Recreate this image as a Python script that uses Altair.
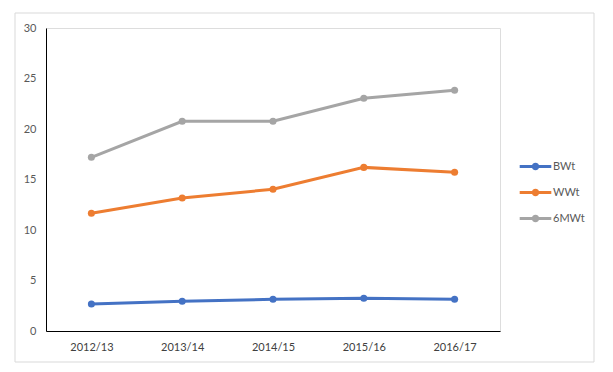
import altair as alt
import pandas as pd

years = ["2012/13", "2013/14", "2014/15", "2015/16", "2016/17"]
bwt = [2.67, 2.94, 3.14, 3.24, 3.14]
wwt = [11.65, 13.17, 14.03, 16.2, 15.71]
mwt6 = [17.2, 20.76, 20.76, 23.04, 23.83]
series_names = ["BWt", "WWt", "6MWt"]
series_colors = ["#4472C4", "#ED7D31", "#A5A5A5"]
y_ticks = [0, 5, 10, 15, 20, 25, 30]

rows = []
for name, vals in zip(series_names, [bwt, wwt, mwt6]):
    for yr, v in zip(years, vals):
        rows.append({"year": yr, "value": v, "series": name})
df = pd.DataFrame(rows)

FONT = "Lato"
W, H = 454, 303

border = alt.Chart(pd.DataFrame({"a": [0]})).mark_rect(
    fill="transparent", stroke="#d9d9d9", strokeWidth=1
).encode(
    x=alt.value(-31), x2=alt.value(548), y=alt.value(-15), y2=alt.value(334)
)

legend_symbol = "M-1,0L1,0M-0.14,0A0.14,0.14,0,1,1,0.14,0A0.14,0.14,0,1,1,-0.14,0"

lines = alt.Chart(df).mark_line(
    strokeWidth=3,
    point=alt.OverlayMarkDef(size=50, filled=True, opacity=1),
).encode(
    x=alt.X("year:N", sort=years, scale=alt.Scale(padding=0.5),
            axis=alt.Axis(title=None, labelAngle=0, ticks=False, grid=False,
                          domainColor="#000000", domainWidth=1,
                          labelColor="#404040", labelFont=FONT, labelFontSize=11,
                          labelPadding=10, zindex=1)),
    y=alt.Y("value:Q", scale=alt.Scale(domain=[0, 30], nice=False),
            axis=alt.Axis(title=None, values=y_ticks, ticks=False, grid=False,
                          domainColor="#000000", domainWidth=1,
                          labelColor="#595959", labelFont=FONT, labelFontSize=11,
                          labelPadding=10, zindex=1)),
    color=alt.Color("series:N", sort=series_names,
                    scale=alt.Scale(domain=series_names, range=series_colors),
                    legend=alt.Legend(title=None, orient="none", legendX=472, legendY=121,
                                      symbolType=legend_symbol, symbolSize=1000,
                                      symbolStrokeWidth=3, labelFont=FONT,
                                      labelFontSize=11, labelColor="#595959",
                                      labelOffset=0, rowPadding=-12)),
)

chart = alt.layer(border, lines).properties(
    width=W, height=H,
    autosize=alt.AutoSizeParams(type="none"),
    padding={"left": 38, "top": 20, "right": 105, "bottom": 33},
).configure_view(stroke=None).configure(background="white")

chart.save("out.html", embed_options={"renderer": "svg", "actions": False})
